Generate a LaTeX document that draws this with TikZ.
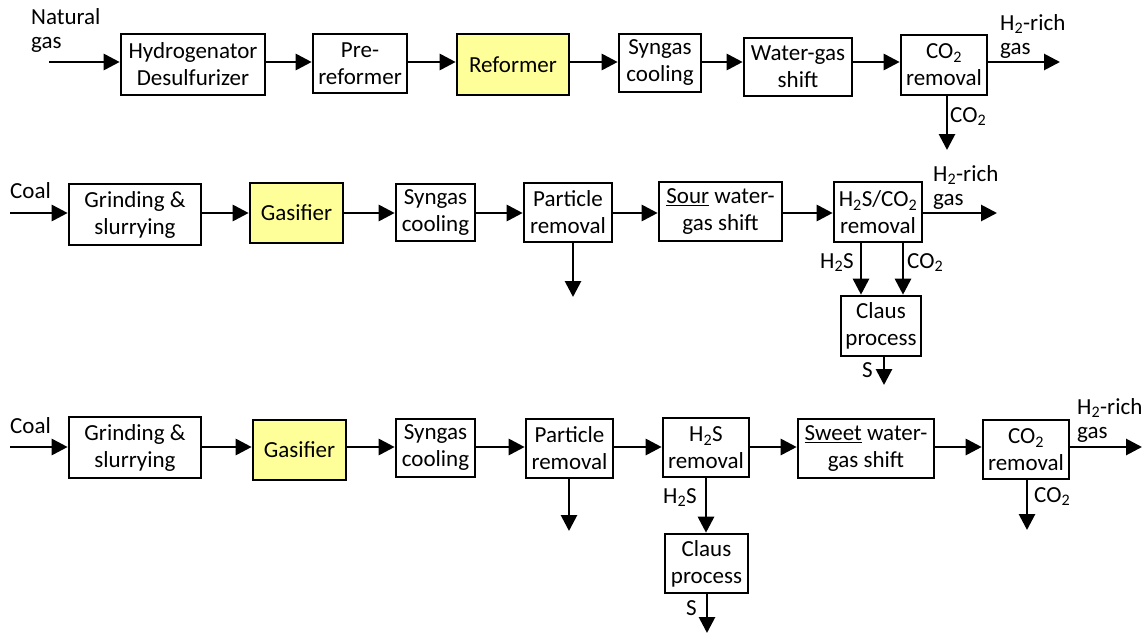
\documentclass[tikz,border=0pt]{standalone}
\usepackage{fontspec}
\setmainfont{Carlito}
\usetikzlibrary{arrows.meta}
\newcommand{\lsub}[1]{\textsubscript{#1}}
\definecolor{procyellow}{RGB}{255,255,153}
\tikzset{
  box/.style={draw, line width=2.6, fill=white, inner sep=0, align=center,
              font=\fontsize{23}{27}\selectfont},
  hot/.style={fill=procyellow},
  arr/.style={line width=2.8, -{Triangle[length=16,width=16]}},
  lbl/.style={inner sep=0, align=left, font=\fontsize{23}{24}\selectfont},
}
% \bx[style]{name}{x1}{y1}{x2}{y2}{text}
\newcommand{\bx}[7][]{\node[box,#1,minimum width={#5-#3-2},minimum height={#6-#4-2}] (#2) at ({(#3+#5)/2},{(#4+#6)/2}) {#7};}
\begin{document}
\begin{tikzpicture}[x=1pt,y=-1pt]
\useasboundingbox (0,0) rectangle (1146,635);
% row coordinates
\coordinate (r1) at (0,62);
\coordinate (r2) at (0,213);
\coordinate (r3) at (0,447);
% ---------- Row 1 ----------
\bx{hd}{120}{33}{266}{96}{Hydrogenator\\Desulfurizer}
\bx{pre}{312}{33}{408}{94}{Pre-\\reformer}
\bx[hot]{ref}{456}{33}{570}{96}{Reformer}
\bx{sc1}{618}{33}{702}{93}{Syngas\\cooling}
\bx{wgs}{743}{37}{853}{97}{Water-gas\\shift}
\bx{co2a}{900}{34}{988}{96}{CO\lsub{2}\\removal}
\coordinate (i1) at (49,62);
\coordinate (o1) at (1060,62);
\coordinate (d1) at (947,150);
\draw[arr] (i1) -- (hd.west |- r1);
\draw[arr] (hd.east |- r1) -- (pre.west |- r1);
\draw[arr] (pre.east |- r1) -- (ref.west |- r1);
\draw[arr] (ref.east |- r1) -- (sc1.west |- r1);
\draw[arr] (sc1.east |- r1) -- (wgs.west |- r1);
\draw[arr] (wgs.east |- r1) -- (co2a.west |- r1);
\draw[arr] (co2a.east |- r1) -- (o1);
\draw[arr] (co2a.south -| d1) -- (d1);
\node[lbl, anchor=north west] (lng) at (31,8) {Natural\\gas};
\node[lbl, anchor=north west] (lh1) at (1000,14) {H\lsub{2}-rich\\gas};
\node[lbl, anchor=base west] (lc1) at (950,122) {CO\lsub{2}};
% ---------- Row 2 ----------
\bx{gr2}{68}{183}{202}{246}{Grinding \&\\slurrying}
\bx[hot]{ga2}{249}{182}{344}{244}{Gasifier}
\bx{sc2}{395}{183}{476}{242}{Syngas\\cooling}
\bx{pr2}{523}{182}{613}{243}{Particle\\removal}
\bx{sour}{658}{181}{783}{242}{\underline{Sour} water-\\gas shift}
\bx{hc}{833}{181}{923}{243}{H\lsub{2}S/CO\lsub{2}\\removal}
\bx{cl2}{840}{295}{922}{357}{Claus\\process}
\coordinate (i2) at (10,213);
\coordinate (o2) at (997,213);
\coordinate (d2) at (573,297);
\coordinate (s2) at (884,385);
\draw[arr] (i2) -- (gr2.west |- r2);
\draw[arr] (gr2.east |- r2) -- (ga2.west |- r2);
\draw[arr] (ga2.east |- r2) -- (sc2.west |- r2);
\draw[arr] (sc2.east |- r2) -- (pr2.west |- r2);
\draw[arr] (pr2.east |- r2) -- (sour.west |- r2);
\draw[arr] (sour.east |- r2) -- (hc.west |- r2);
\draw[arr] (hc.east |- r2) -- (o2);
\draw[arr] (pr2.south -| d2) -- (d2);
\draw[arr] ([xshift=-17]hc.south) -- ([xshift=-17]hc.south |- cl2.north);
\draw[arr] ([xshift=25]hc.south) -- ([xshift=25]hc.south |- cl2.north);
\draw[arr] (cl2.south -| s2) -- (s2);
\node[lbl, anchor=base west] (lcoal2) at (10,198) {Coal};
\node[lbl, anchor=north west] (lh2) at (933,165) {H\lsub{2}-rich\\gas};
\node[lbl, anchor=base west] (lhs2) at (820,268) {H\lsub{2}S};
\node[lbl, anchor=base west] (lc2) at (907,268) {CO\lsub{2}};
\node[lbl, anchor=base west] (ls2) at (862,377) {S};
% ---------- Row 3 ----------
\bx{gr3}{68}{416}{202}{479}{Grinding \&\\slurrying}
\bx[hot]{ga3}{252}{419}{347}{481}{Gasifier}
\bx{sc3}{395}{418}{476}{478}{Syngas\\cooling}
\bx{pr3}{525}{418}{614}{479}{Particle\\removal}
\bx{hs3}{662}{417}{750}{478}{H\lsub{2}S\\removal}
\bx{cl3}{664}{533}{749}{594}{Claus\\process}
\bx{sweet}{797}{418}{935}{479}{\underline{Sweet} water-\\gas shift}
\bx{co2c}{982}{419}{1070}{480}{CO\lsub{2}\\removal}
\coordinate (i3) at (10,447);
\coordinate (o3) at (1142,447);
\coordinate (d3) at (569,531);
\coordinate (s3) at (707,633);
\coordinate (e3) at (1027,530);
\draw[arr] (i3) -- (gr3.west |- r3);
\draw[arr] (gr3.east |- r3) -- (ga3.west |- r3);
\draw[arr] (ga3.east |- r3) -- (sc3.west |- r3);
\draw[arr] (sc3.east |- r3) -- (pr3.west |- r3);
\draw[arr] (pr3.east |- r3) -- (hs3.west |- r3);
\draw[arr] (hs3.east |- r3) -- (sweet.west |- r3);
\draw[arr] (sweet.east |- r3) -- (co2c.west |- r3);
\draw[arr] (co2c.east |- r3) -- (o3);
\draw[arr] (pr3.south -| d3) -- (d3);
\draw[arr] (hs3.south) -- (hs3.south |- cl3.north);
\draw[arr] (cl3.south -| s3) -- (s3);
\draw[arr] (co2c.south -| e3) -- (e3);
\node[lbl, anchor=base west] (lcoal3) at (10,433) {Coal};
\node[lbl, anchor=north west] (lh3) at (1077,398) {H\lsub{2}-rich\\gas};
\node[lbl, anchor=base west] (lhs3) at (663,503) {H\lsub{2}S};
\node[lbl, anchor=base west] (ls3) at (686,615) {S};
\node[lbl, anchor=base west] (lc3) at (1034,502) {CO\lsub{2}};
\end{tikzpicture}
\end{document}
